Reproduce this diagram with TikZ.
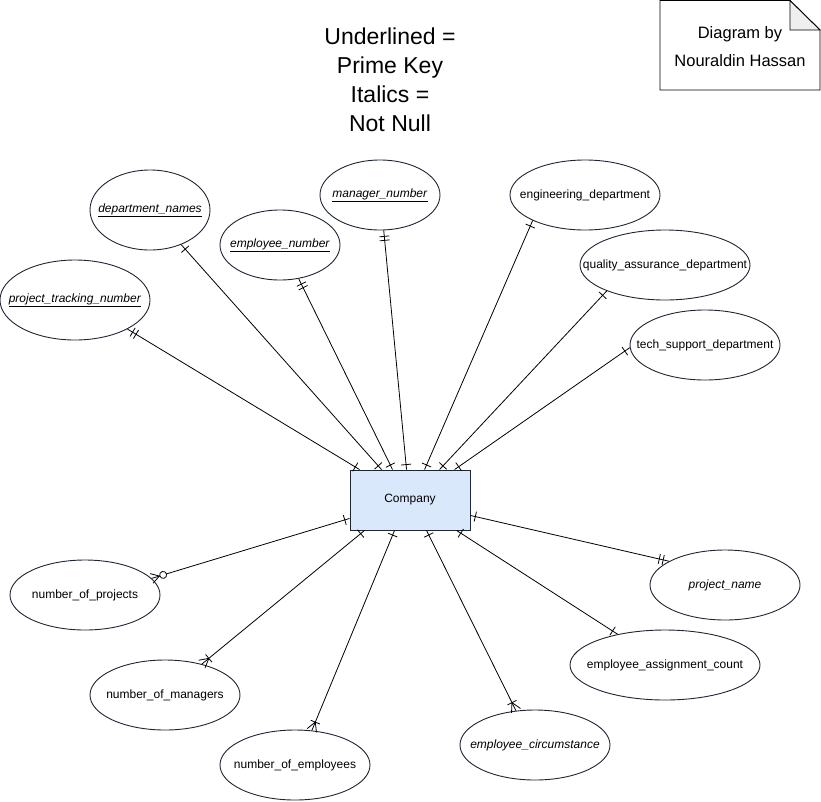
\documentclass[tikz,border=0pt]{standalone}
\usepackage{fontspec}
\setmainfont{Liberation Sans}
\usetikzlibrary{shapes.geometric,decorations.markings}

\definecolor{entityfill}{HTML}{DAE8FC}
\definecolor{outline}{HTML}{1F2633}
\definecolor{foldfill}{HTML}{EFEFEF}

\newcommand{\pk}[1]{\underline{\textit{#1}}}

\tikzset{
  attr/.style={ellipse, draw=outline, fill=white, line width=0.9pt, inner sep=0pt,
    minimum width=150pt, minimum height=70pt},
  attrtext/.style={font=\fontsize{12}{14}\selectfont, inner sep=0pt},
  entity/.style={rectangle, draw=outline, fill=entityfill, line width=0.9pt,
    minimum width=120pt, minimum height=60pt, font=\fontsize{12}{14}\selectfont},
  rel/.style={draw=black, line width=0.8pt},
  % crow's-foot notation marks
  one start/.style={postaction={decorate,decoration={markings,
    mark=at position 5pt with {\draw[line width=0.8pt] (0pt,-5pt)--(0pt,5pt);}}}},
  one end/.style={postaction={decorate,decoration={markings,
    mark=at position -6pt with {\draw[line width=0.8pt] (0pt,-5pt)--(0pt,5pt);}}}},
  mand one end/.style={postaction={decorate,decoration={markings,
    mark=at position -10pt with {\draw[line width=0.8pt] (0pt,-5pt)--(0pt,5pt);},
    mark=at position -6pt with {\draw[line width=0.8pt] (0pt,-5pt)--(0pt,5pt);}}}},
  one many end/.style={postaction={decorate,decoration={markings,
    mark=at position -9pt with {\draw[line width=0.8pt] (0pt,-5pt)--(0pt,5pt)
      (0pt,0pt)--(9pt,5pt) (0pt,0pt)--(9pt,-5pt);}}}},
  zero many end/.style={postaction={decorate,decoration={markings,
    mark=at position -12pt with {\draw[line width=0.8pt,fill=white] (0pt,0pt) circle[radius=3.5pt];},
    mark=at position -8pt with {\draw[line width=0.8pt] (0pt,0pt)--(8pt,5pt) (0pt,0pt)--(8pt,-5pt);}}}},
}

\begin{document}
\begin{tikzpicture}[x=1pt,y=-1pt]
  \useasboundingbox (0,0) rectangle (821,801);

  % legend and author note
  \node[align=center, font=\fontsize{23}{29}\selectfont] (legend) at (390,80)
    {Underlined =\\Prime Key\\Italics =\\Not Null};

  \draw[draw=black, line width=0.9pt, fill=white]
    (660,0.5) -- (790,0.5) -- (820,30) -- (820,90) -- (660,90) -- cycle;
  \draw[draw=black, line width=0.9pt, fill=foldfill]
    (790,0.5) -- (790,30) -- (820,30) -- cycle;
  \node[align=center, font=\fontsize{16.5}{28}\selectfont] (note) at (740,47)
    {Diagram by\\Nouraldin Hassan};

  % entity
  \node[entity] (company) at (410,500) {Company};

  % attributes (text placed as centred labels so the ellipse keeps its size)
  \node[attr, minimum width=150pt, minimum height=80pt,
    label={[attrtext]center:\pk{project\_tracking\_number}}] (ptn) at (75,300) {};
  \node[attr, minimum width=120pt, minimum height=80pt,
    label={[attrtext]center:\pk{department\_names}}] (dept) at (150,210) {};
  \node[attr, minimum width=120pt,
    label={[attrtext]center:\pk{employee\_number}}] (empnum) at (280,245) {};
  \node[attr, minimum width=120pt,
    label={[attrtext]center:\pk{manager\_number}}] (mgr) at (380,195) {};
  \node[attr, label={[attrtext]center:engineering\_department}] (eng) at (585,195) {};
  \node[attr, minimum width=170pt,
    label={[attrtext]center:quality\_assurance\_department}] (qa) at (665,265) {};
  \node[attr, label={[attrtext]center:tech\_support\_department}] (tech) at (705,345) {};
  \node[attr, label={[attrtext]center:number\_of\_projects}] (nproj) at (85,595) {};
  \node[attr, label={[attrtext]center:number\_of\_managers}] (nmgr) at (165,695) {};
  \node[attr, label={[attrtext]center:number\_of\_employees}] (nemp) at (295,765) {};
  \node[attr, label={[attrtext]center:\textit{employee\_circumstance}}] (circ) at (535,745) {};
  \node[attr, minimum width=190pt,
    label={[attrtext]center:employee\_assignment\_count}] (eac) at (665,665) {};
  \node[attr, label={[attrtext]center:\textit{project\_name}}] (pname) at (725,585) {};

  % connectors, drawn from the entity to each attribute
  \draw[rel, one start, mand one end] ([xshift=10pt]company.north west) -- (ptn.-29);
  \draw[rel, one start, one end] ([xshift=32pt]company.north west) -- (dept.-48);
  \draw[rel, one start, mand one end] ([xshift=43pt]company.north west) -- (empnum.-61);
  \draw[rel, one start, mand one end] ([xshift=57pt]company.north west) -- (mgr.-84);
  \draw[rel, one start, one end] ([xshift=75pt]company.north west) -- (eng.206);
  \draw[rel, one start, one end] ([xshift=90pt]company.north west) -- (qa.204);
  \draw[rel, one start, one end] ([xshift=105pt]company.north west) -- (tech.182);

  \draw[rel, one start, zero many end] ([yshift=12pt]company.south west) -- (nproj.14);
  \draw[rel, one start, one many end] ([xshift=15pt]company.south west) -- (nmgr.40);
  \draw[rel, one start, one many end] ([xshift=45pt]company.south west) -- (nemp.64);
  \draw[rel, one start, one many end] ([xshift=77pt]company.south west) -- (circ.119);
  \draw[rel, one start, one end] ([xshift=107pt]company.south west) -- (eac.147);
  \draw[rel, one start, mand one end] ([yshift=15pt]company.south east) -- (pname.157);
\end{tikzpicture}
\end{document}
